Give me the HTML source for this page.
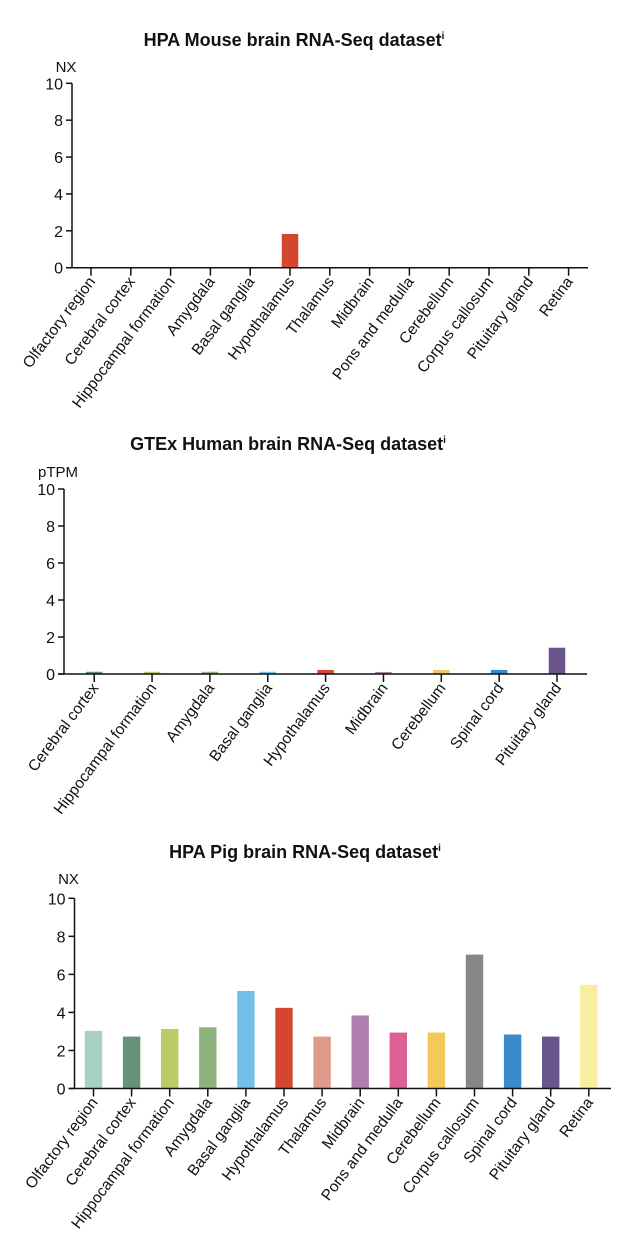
<!DOCTYPE html>
<html><head><meta charset="utf-8">
<style>
html,body{margin:0;padding:0;background:#fff;width:644px;height:1258px;overflow:hidden}
svg{display:block;font-family:"Liberation Sans",Arial,sans-serif}
</style></head>
<body>
<svg id="svg" width="644" height="1258" viewBox="0 0 644 1258"></svg>
<script>
const mouseCategories=["Olfactory region","Cerebral cortex","Hippocampal formation","Amygdala","Basal ganglia","Hypothalamus","Thalamus","Midbrain","Pons and medulla","Cerebellum","Corpus callosum","Pituitary gland","Retina"];
const mouseValues=[0,0,0,0,0,1.83,0,0,0,0,0,0,0];
const mouseColors=["#a8d1c4","#64937a","#bccb64","#8bb37b","#72c0e8","#d4462e","#e09a8a","#b07fb0","#db6195","#f5c85c","#878787","#3a89c9","#6a548c"];
const humanCategories=["Cerebral cortex","Hippocampal formation","Amygdala","Basal ganglia","Hypothalamus","Midbrain","Cerebellum","Spinal cord","Pituitary gland"];
const humanValues=[0.12,0.12,0.12,0.12,0.22,0.11,0.22,0.22,1.42];
const humanColors=["#64937a","#bccb64","#8bb37b","#72c0e8","#d4462e","#b07fb0","#f5c85c","#3a89c9","#6a548c"];
const pigCategories=["Olfactory region","Cerebral cortex","Hippocampal formation","Amygdala","Basal ganglia","Hypothalamus","Thalamus","Midbrain","Pons and medulla","Cerebellum","Corpus callosum","Spinal cord","Pituitary gland","Retina"];
const pigValues=[3.03,2.73,3.13,3.22,5.13,4.24,2.73,3.84,2.94,2.94,7.04,2.84,2.73,5.45];
const pigColors=["#a8d1c4","#64937a","#bccb64","#8bb37b","#72c0e8","#d4462e","#e09a8a","#b07fb0","#db6195","#f5c85c","#878787","#3a89c9","#6a548c","#f7eea0"];
const yTicks=[0,2,4,6,8,10];

const NS="http://www.w3.org/2000/svg";
const svg=document.getElementById('svg');
function mk(tag,attrs,parent){const e=document.createElementNS(NS,tag);for(const k in attrs)e.setAttribute(k,attrs[k]);(parent||svg).appendChild(e);return e;}

function chart(cfg,cats,vals,cols){
  const g=mk('g',{});
  
  
  const y=v=>cfg.y0-(v/10)*(cfg.y0-cfg.y10);
  const x=i=>cfg.x0+i*cfg.step;
  const t=mk('text',{x:cfg.tx,y:cfg.ty,'font-size':18,'font-weight':'bold','text-anchor':'middle',fill:'#111'},g);
  t.textContent=cfg.title;
  const sup=mk('tspan',{'font-size':10,dy:-7},t);sup.textContent='i';
  
  
  const u=mk('text',{x:cfg.ax-6,y:cfg.uy,'font-size':15,'text-anchor':'middle',fill:'#111'},g);
  u.textContent=cfg.unit;
  
  
  vals.forEach((v,i)=>{
    const r=mk('rect',{x:x(i)-cfg.bw/2,y:y(v),width:cfg.bw,height:cfg.y0-y(v),fill:cols[i]},g);
    
    
  });
  const ya=mk('line',{x1:cfg.ax,y1:cfg.y10,x2:cfg.ax,y2:cfg.y0,stroke:'#111','stroke-width':1.5},g);
  
  
  const xa=mk('line',{x1:cfg.ax-6,y1:cfg.y0,x2:cfg.axEnd,y2:cfg.y0,stroke:'#111','stroke-width':1.5},g);
  
  
  yTicks.forEach(v=>{
    mk('line',{x1:cfg.ax-6,y1:y(v),x2:cfg.ax,y2:y(v),stroke:'#111','stroke-width':1.5},g);
    const l=mk('text',{x:cfg.ax-9,y:y(v)+6,'font-size':16,'text-anchor':'end',fill:'#111'},g);
    l.textContent=v;
    
    
  });
  cats.forEach((c,i)=>{
    mk('line',{x1:x(i),y1:cfg.y0,x2:x(i),y2:cfg.y0+8,stroke:'#111','stroke-width':1.5},g);
    const px=x(i)+5,py=cfg.y0+14;
    const l=mk('text',{x:px,y:py,'font-size':15.5,'text-anchor':'end',fill:'#111',transform:`rotate(-53 ${px} ${py})`},g);
    l.textContent=c;
    
    
  });
}
chart({name:'mouse-brain-chart',title:'HPA Mouse brain RNA-Seq dataset',unit:'NX',tx:294,ty:46,uy:72,ax:72,axEnd:588,x0:91,step:39.8,bw:16.5,y10:83.3,y0:267.7},mouseCategories,mouseValues,mouseColors);
chart({name:'human-brain-chart',title:'GTEx Human brain RNA-Seq dataset',unit:'pTPM',tx:288,ty:450,uy:477,ax:64,axEnd:587,x0:94.2,step:57.85,bw:16.5,y10:489,y0:674},humanCategories,humanValues,humanColors);
chart({name:'pig-brain-chart',title:'HPA Pig brain RNA-Seq dataset',unit:'NX',tx:305,ty:858,uy:884,ax:74.5,axEnd:611,x0:93.5,step:38.1,bw:17.4,y10:898.3,y0:1088.5},pigCategories,pigValues,pigColors);
</script>
</body></html>
